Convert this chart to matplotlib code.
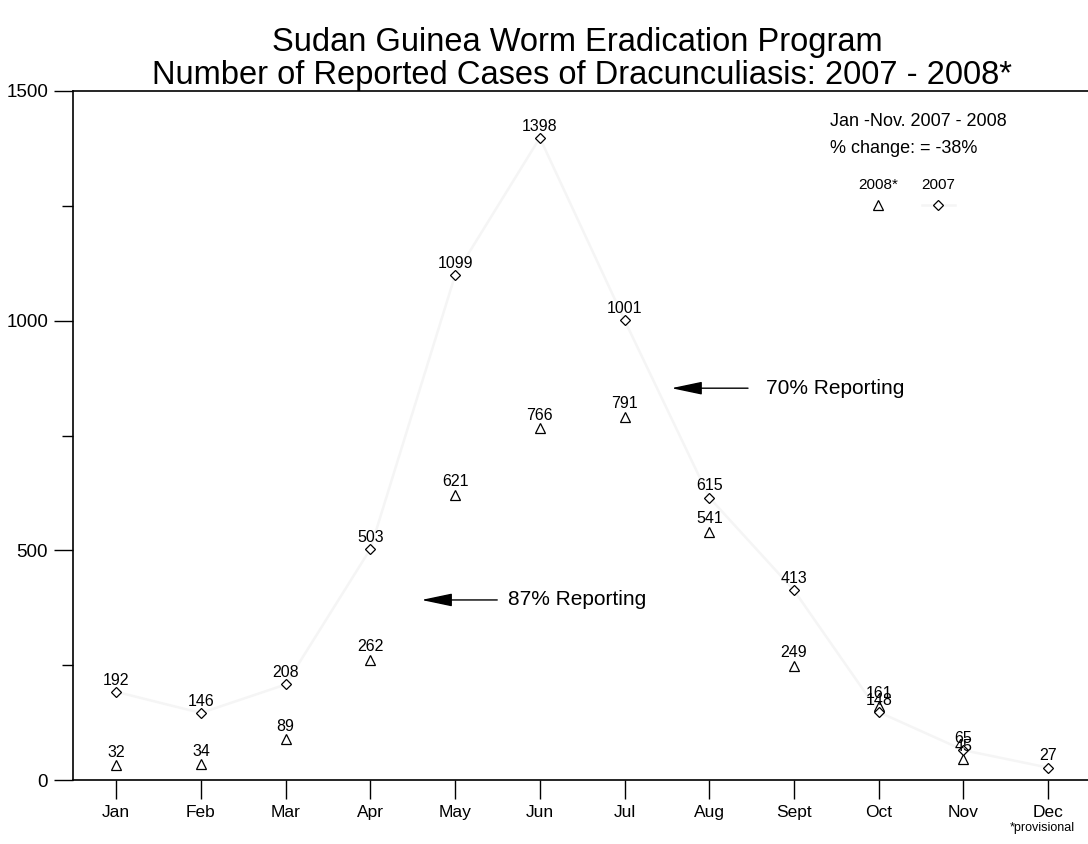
import matplotlib.pyplot as plt
from matplotlib.lines import Line2D

plt.rcParams['font.family'] = ['Liberation Sans', 'DejaVu Sans']

months = ['Jan', 'Feb', 'Mar', 'Apr', 'May', 'Jun', 'Jul', 'Aug', 'Sept', 'Oct', 'Nov', 'Dec']
cases_2007 = [192, 146, 208, 503, 1099, 1398, 1001, 615, 413, 148, 65, 27]
cases_2008 = [32, 34, 89, 262, 621, 766, 791, 541, 249, 161, 45]

x07 = list(range(1, len(cases_2007) + 1))
x08 = list(range(1, len(cases_2008) + 1))

fig = plt.figure(figsize=(10.88, 8.44), dpi=100)
ax = fig.add_axes([0.0671, 0.0758, 0.9329, 0.8164])

# 2007 series: very faint line plus open diamonds
ax.plot(x07, cases_2007, color='#f5f5f5', lw=1.8, zorder=1)
ax.plot(x07, cases_2007, ls='none', marker='D', ms=5.5, mfc='white', mec='black', mew=0.9, zorder=3)
# 2008 series: open triangles
ax.plot(x08, cases_2008, ls='none', marker='^', ms=7, mfc='white', mec='black', mew=0.9, zorder=2)

for xi, v in zip(x07, cases_2007):
    ax.annotate(str(v), (xi, v), xytext=(0, 3), textcoords='offset points',
                ha='center', va='bottom', fontsize=11.5)
for xi, v in zip(x08, cases_2008):
    ax.annotate(str(v), (xi, v), xytext=(0, 4), textcoords='offset points',
                ha='center', va='bottom', fontsize=11.5)

# reporting arrows
arrow = dict(arrowstyle='-|>,head_length=1.9,head_width=0.4', color='black', lw=1)
ax.annotate('', xy=(7.52, 853), xytext=(8.49, 853), arrowprops=arrow)
ax.text(8.67, 853, '70% Reporting', fontsize=15, va='center', ha='left')
ax.annotate('', xy=(4.57, 392), xytext=(5.53, 392), arrowprops=arrow)
ax.text(5.63, 392, '87% Reporting', fontsize=15, va='center', ha='left')

# summary note and legend
ax.text(0.746, 0.955, 'Jan -Nov. 2007 - 2008', transform=ax.transAxes, fontsize=13, va='center')
ax.text(0.746, 0.917, '% change: = -38%', transform=ax.transAxes, fontsize=13, va='center')
ax.text(0.793, 0.864, '2008*', transform=ax.transAxes, fontsize=11, ha='center', va='center')
ax.text(0.852, 0.864, '2007', transform=ax.transAxes, fontsize=11, ha='center', va='center')
ax.add_line(Line2D([0.836, 0.869], [0.835, 0.835], transform=ax.transAxes, color='#f5f5f5', lw=1.8))
ax.plot([0.793], [0.835], transform=ax.transAxes, marker='^', ms=7, mfc='white', mec='black', mew=0.9)
ax.plot([0.852], [0.835], transform=ax.transAxes, marker='D', ms=5.5, mfc='white', mec='black', mew=0.9)

ax.set_xlim(0.49, 12.47)
ax.set_ylim(0, 1500)
ax.set_xticks(x07)
ax.set_xticklabels(months)
ax.set_yticks([0, 500, 1000, 1500])
ax.set_yticks([250, 750, 1250], minor=True)
ax.tick_params(axis='both', which='major', direction='out', length=14, width=1)
ax.tick_params(axis='x', which='major', labelsize=12.5, pad=4)
ax.tick_params(axis='y', which='major', labelsize=13.5, pad=4)
ax.tick_params(axis='y', which='minor', direction='out', length=8, width=1)
ax.spines['right'].set_visible(False)
for s in ['left', 'top', 'bottom']:
    ax.spines[s].set_linewidth(1.2)

fig.text(0.531, 0.950, 'Sudan Guinea Worm Eradication Program', ha='center', va='center', fontsize=23.5)
fig.text(0.535, 0.911, 'Number of Reported Cases of Dracunculiasis: 2007 - 2008*', ha='center', va='center', fontsize=23.5)
fig.text(0.988, 0.019, '*provisional', ha='right', va='center', fontsize=9)

fig.savefig('out.png', dpi=100)
